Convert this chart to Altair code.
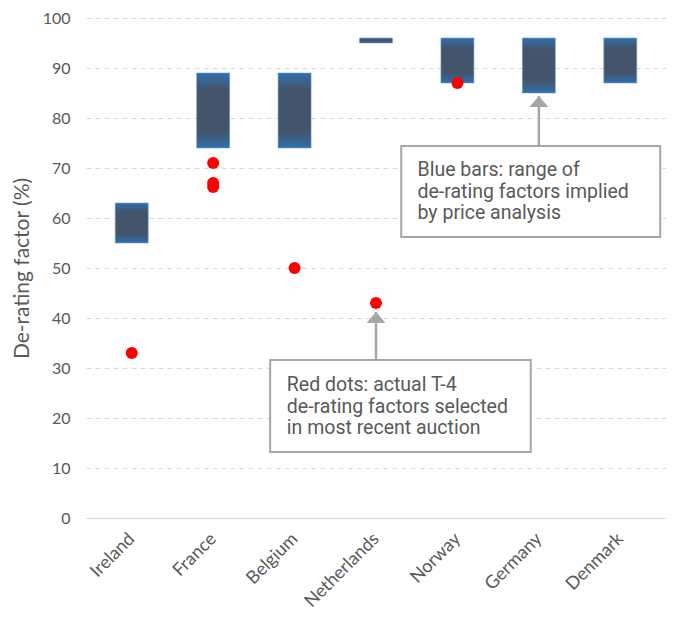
import altair as alt
import pandas as pd

# ---- data ----
countries = ["Ireland", "France", "Belgium", "Netherlands", "Norway", "Germany", "Denmark"]
bar_low = [55, 74, 74, 95, 87, 85, 87]
bar_high = [63, 89, 89, 96, 96, 96, 96]

dot_country = ["Ireland", "France", "France", "France", "Belgium", "Netherlands", "Norway"]
dot_value = [33, 71, 67, 66.2, 50, 43, 87]

y_ticks = [0, 10, 20, 30, 40, 50, 60, 70, 80, 90, 100]

# annotation content (x in category-index units, y in % units)
ann_lines_1 = ["Blue bars: range of", "de-rating factors implied", "by price analysis"]
ann_lines_2 = ["Red dots: actual T-4", "de-rating factors selected", "in most recent auction"]
ann_line_y_1 = [69.6, 65.2, 61.0]
ann_line_y_2 = [26.6, 22.2, 18.0]
ann_text_x = [3.51, 1.905]
box_x1 = [3.31, 1.70]
box_x2 = [6.49, 4.90]
box_y1 = [56.2, 13.2]
box_y2 = [74.4, 31.6]
arrow_x = [5.0, 3.0]
arrow_base = [74.4, 31.6]
arrow_tip = [84.4, 41.2]

# ---- tables ----
idx = {c: i for i, c in enumerate(countries)}
bars = pd.DataFrame({"country": countries, "i": range(len(countries)),
                     "low": bar_low, "high": bar_high})
dots = pd.DataFrame({"country": dot_country,
                     "i": [idx[c] for c in dot_country],
                     "value": dot_value})
texts = pd.DataFrame({
    "text": ann_lines_1 + ann_lines_2,
    "x": [ann_text_x[0]] * 3 + [ann_text_x[1]] * 3,
    "y": ann_line_y_1 + ann_line_y_2,
})
boxes = pd.DataFrame({"x1": box_x1, "x2": box_x2, "y1": box_y1, "y2": box_y2})
arrows = pd.DataFrame({"x": arrow_x, "base": arrow_base, "tip": arrow_tip})

label_expr = "[" + ",".join(f"'{c}'" for c in countries) + "][datum.value]"

xscale = alt.Scale(domain=[-0.5, len(countries) - 0.5], nice=False, zero=False)
yscale = alt.Scale(domain=[0, 100], nice=False)

x_axis = alt.Axis(values=list(range(len(countries))), labelExpr=label_expr,
                  labelAngle=-45, labelAlign="right", labelBaseline="middle",
                  labelFont="Lato", labelFontSize=18, labelColor="#595959",
                  labelPadding=18, labelOverlap=False, ticks=False, grid=False,
                  domain=True, domainColor="#d9d9d9", title=None)
y_axis = alt.Axis(values=y_ticks, labelFont="Lato", labelFontSize=16,
                  labelColor="#595959", labelPadding=16, ticks=False,
                  domain=False, grid=True, gridColor="#d9d9d9", gridDash=[5, 4],
                  title="De-rating factor (%)", titleFont="Lato", titleFontSize=21,
                  titleFontWeight="normal", titleColor="#595959", titlePadding=10)

gradient = alt.Gradient(
    gradient="linear", x1=0, x2=0, y1=0, y2=1,
    stops=[alt.GradientStop(color="#2e70b0", offset=0),
           alt.GradientStop(color="#44546a", offset=0.22),
           alt.GradientStop(color="#44546a", offset=0.78),
           alt.GradientStop(color="#2e70b0", offset=1)],
)

bar_layer = alt.Chart(bars).mark_bar(size=33, fill=gradient, stroke="#6fa0d0",
                                     strokeWidth=0.6).encode(
    x=alt.X("i:Q", scale=xscale, axis=x_axis),
    y=alt.Y("low:Q", scale=yscale, axis=y_axis),
    y2="high:Q",
)

dot_layer = alt.Chart(dots).mark_circle(size=145, color="#ff0000", opacity=1).encode(
    x="i:Q", y="value:Q",
)

box_layer = alt.Chart(boxes).mark_rect(fill="white", stroke="#a6a6a6",
                                       strokeWidth=2).encode(
    x="x1:Q", x2="x2:Q", y="y1:Q", y2="y2:Q",
)

shaft_layer = alt.Chart(arrows).mark_rule(color="#a6a6a6", strokeWidth=2.5).encode(
    x="x:Q", y="base:Q", y2=alt.Y2("tip:Q"),
)

head_layer = alt.Chart(arrows).mark_point(
    shape="M0,0L1,1.16L-1,1.16Z", size=361, filled=True,
    color="#a6a6a6", opacity=1).encode(
    x="x:Q", y="tip:Q",
)

text_layer = alt.Chart(texts).mark_text(
    align="left", baseline="middle", font="Roboto", fontSize=19.5,
    color="#595959").encode(
    x="x:Q", y="y:Q", text="text:N",
)

chart = alt.layer(bar_layer, dot_layer, shaft_layer, head_layer, box_layer,
                  text_layer).properties(
    width=580, height=500,
    padding={"left": 3, "top": 2, "right": 0, "bottom": 0},
).configure_view(stroke=None)

chart.save("out.html", embed_options={"renderer": "svg", "actions": False})
